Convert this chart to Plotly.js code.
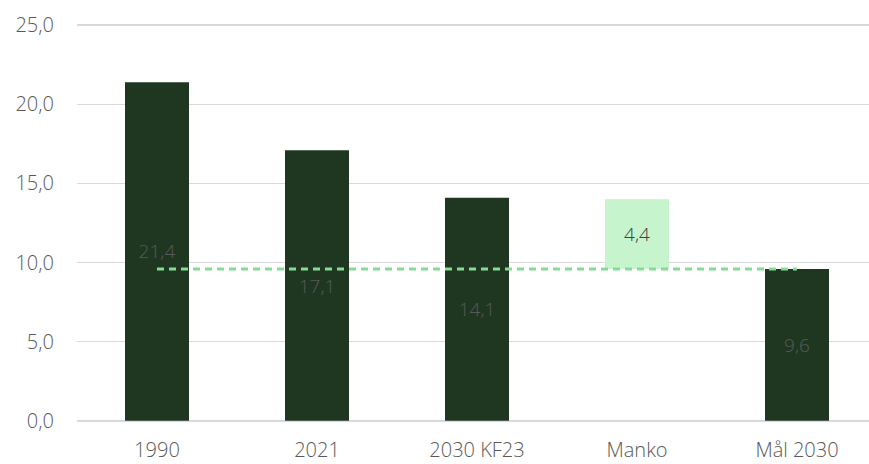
<!DOCTYPE html>
<html><head><meta charset="utf-8">
<script src="https://cdn.plot.ly/plotly-3.0.1.min.js"></script>
<style>html,body{margin:0;padding:0;background:#fff}#c{width:869px;height:464px}</style>
</head><body><div id="c"></div>
<script>
const categories = ["1990", "2021", "2030 KF23", "Manko", "Mål 2030"];
const barValues = [21.4, 17.1, 14.1, null, 9.6];
const mankoBase = [9.6];
const mankoValue = [4.4];
const targetLineX = ["1990", "Mål 2030"];
const targetLineY = [9.6, 9.6];
const yTicks = [0, 5, 10, 15, 20, 25];

const FONT = '"Open Sans", Roboto, sans-serif';
const fmt = v => v.toFixed(1).replace('.', ',');

const traces = [
  {
    type: 'bar', x: categories, y: barValues, width: 0.4,
    marker: {color: '#1f3720'},
    text: barValues.map(v => v == null ? '' : fmt(v)),
    textposition: 'inside', insidetextanchor: 'middle',
    textfont: {color: '#595959', size: 19, family: FONT, weight: 300},
    hoverinfo: 'none', showlegend: false
  },
  {
    type: 'bar', x: ["Manko"], y: mankoValue, base: mankoBase, width: 0.4,
    marker: {color: '#c6f4cc'},
    text: mankoValue.map(fmt),
    textposition: 'inside', insidetextanchor: 'middle',
    textfont: {color: '#404040', size: 19, family: FONT, weight: 300},
    hoverinfo: 'none', showlegend: false
  },
  {
    type: 'scatter', mode: 'lines', x: targetLineX, y: targetLineY,
    line: {color: '#86dc96', width: 3, dash: '7px,5px'},
    hoverinfo: 'none', showlegend: false
  }
];

const layout = {
  width: 869, height: 464,
  margin: {l: 77, r: 0, t: 22, b: 40},
  paper_bgcolor: '#fff', plot_bgcolor: '#fff',
  separators: ', ',
  barmode: 'overlay',
  font: {family: FONT, color: '#595959', size: 20, weight: 300},
  xaxis: {
    type: 'category', range: [-0.5, 4.45],
    showgrid: false, zeroline: false, showline: false,
    ticks: '', ticklabelstandoff: 12,
    tickfont: {size: 20, color: '#595959', family: FONT, weight: 300}
  },
  yaxis: {
    range: [-0.2, 25.2], tickvals: yTicks, tickformat: '.1f',
    showgrid: true, gridcolor: '#d9d9d9', gridwidth: 1.5,
    zeroline: false, showline: false, ticks: '',
    ticklabelstandoff: 22,
    tickfont: {size: 20, color: '#595959', family: FONT, weight: 300}
  }
};

Plotly.newPlot('c', traces, layout, {staticPlot: true, displayModeBar: false});
</script></body></html>
